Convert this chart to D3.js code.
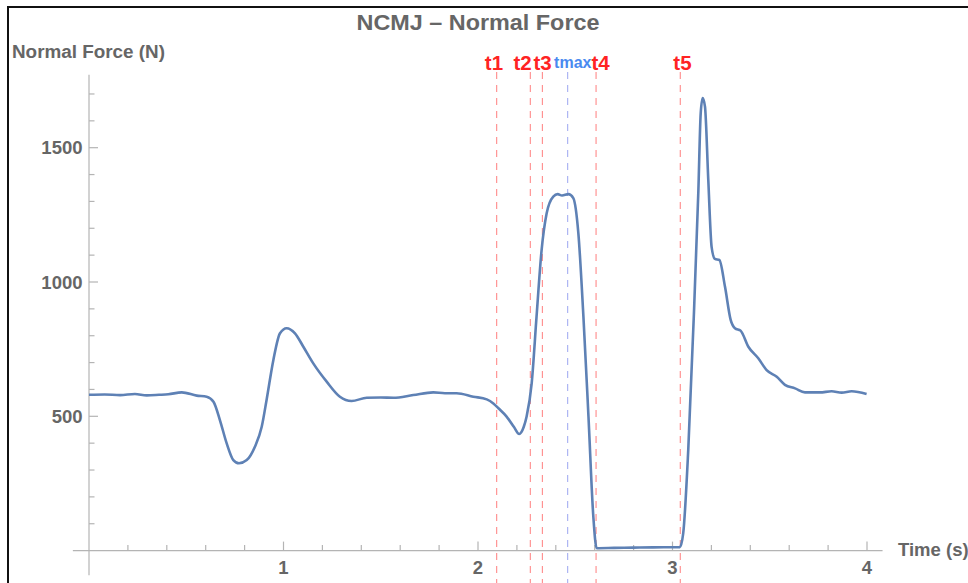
<!DOCTYPE html>
<html>
<head>
<meta charset="utf-8">
<script src="https://cdn.jsdelivr.net/npm/d3@7"></script>
<style>
  html, body { margin: 0; padding: 0; background: #fff; }
  svg { display: block; }
  text { font-family: "Liberation Sans", Arial, sans-serif; font-weight: bold; }
</style>
</head>
<body>
<div id="chart"></div>
<script>
// NCMJ - NORMAL FORCE

const timeValues = [
    0, 0.08, 0.16, 0.236, 0.297, 0.36, 0.408, 0.477, 0.554, 0.605,
    0.640, 0.673, 0.708, 0.742, 0.771, 0.811, 0.853, 0.888, 0.913, 0.948,
    0.982, 1.016, 1.059, 1.102, 1.153, 1.222, 1.290, 1.350, 1.428, 1.50,
    1.565, 1.667, 1.770, 1.830, 1.890, 1.976, 2.045, 2.079, 2.105, 2.147,
    2.185, 2.212, 2.235, 2.250, 2.276, 2.301, 2.327, 2.353, 2.387, 2.410,
    2.432, 2.465, 2.490, 2.516, 2.542, 2.568, 2.593, 2.610, 2.70, 2.798,
    2.90, 3.038, 3.055, 3.081, 3.110, 3.133, 3.145, 3.155, 3.167, 3.184,
    3.201, 3.218, 3.241, 3.270, 3.299, 3.321, 3.350, 3.390, 3.441, 3.484,
    3.536, 3.578, 3.630, 3.681, 3.758, 3.818, 3.870, 3.921, 3.998
];
const forceValues = [
    580, 581, 579, 583, 578, 580, 582, 589, 577, 573,
    554, 486, 399, 337, 325, 337, 387, 461, 561, 710,
    809, 828, 809, 759, 697, 629, 573, 557, 569, 570,
    569, 579, 589, 586, 586, 573, 563, 548, 530, 499,
    460, 434, 460, 499, 623, 871, 1119, 1256, 1318, 1327,
    1322, 1327, 1312, 1181, 871, 499, 126, 9, 10, 11,
    12, 13, 64, 375, 880, 1340, 1628, 1685, 1653, 1380,
    1131, 1086, 1082, 982, 859, 828, 819, 759, 716, 672,
    647, 617, 604, 589, 589, 593, 588, 593, 583
];

// event markers
const markerNames = ["t1", "t2", "t3", "tmax", "t4", "t5"];
const markerTimes = [2.096, 2.269, 2.331, 2.461, 2.607, 3.040];

// tick values
const xMajorTicks = [1, 2, 3, 4];
const xMinorTicks = d3.range(0.2, 4.01, 0.2);
const yMajorTicks = [500, 1000, 1500];
const yMinorTicks = d3.range(100, 1701, 100);

const W = 968, H = 583;

const svg = d3.select("#chart").append("svg")
    .attr("width", W)
    .attr("height", H);

const x = d3.scaleLinear().domain([0, 4]).range([89, 867]);
const y = d3.scaleLinear().domain([0, 1500]).range([550.6, 147.7]);

const axisColor = "#b4b4b4";
const labelColor = "#666666";

// frame from screenshot
svg.append("path")
    .attr("d", `M8,${H} L8,7 L${W},7`)
    .attr("fill", "none")
    .attr("stroke", "#111")
    .attr("stroke-width", 2);

// title
svg.append("text")
    .attr("x", 478)
    .attr("y", 30)
    .attr("text-anchor", "middle")
    .attr("fill", labelColor)
    .attr("font-size", "22px")
    .attr("textLength", 243)
    .attr("lengthAdjust", "spacingAndGlyphs")
    .text("NCMJ \u2013 Normal Force");

svg.append("text")
    .attr("x", 12)
    .attr("y", 58)
    .attr("fill", labelColor)
    .attr("font-size", "18px")
    .attr("textLength", 153)
    .attr("lengthAdjust", "spacingAndGlyphs")
    .text("Normal Force (N)");

// axes
const axes = svg.append("g").attr("stroke", axisColor).attr("stroke-width", 1.2);

axes.append("line")
    .attr("x1", x(-0.083)).attr("x2", x(4.08))
    .attr("y1", y(0)).attr("y2", y(0));

axes.append("line")
    .attr("x1", x(0)).attr("x2", x(0))
    .attr("y1", y(-92)).attr("y2", y(1772));

axes.selectAll(".xminor")
    .data(xMinorTicks.filter(d => Math.abs(d - Math.round(d)) > 0.01))
    .join("line")
    .attr("x1", d => x(d)).attr("x2", d => x(d))
    .attr("y1", y(0)).attr("y2", y(0) - 5.5);

axes.selectAll(".xmajor")
    .data(xMajorTicks)
    .join("line")
    .attr("x1", d => x(d)).attr("x2", d => x(d))
    .attr("y1", y(0)).attr("y2", y(0) - 9);

axes.selectAll(".yminor")
    .data(yMinorTicks.filter(d => d % 500 !== 0))
    .join("line")
    .attr("x1", x(0)).attr("x2", x(0) + 5.5)
    .attr("y1", d => y(d)).attr("y2", d => y(d));

axes.selectAll(".ymajor")
    .data(yMajorTicks)
    .join("line")
    .attr("x1", x(0)).attr("x2", x(0) + 9)
    .attr("y1", d => y(d)).attr("y2", d => y(d));

svg.selectAll(".xlabel")
    .data(xMajorTicks)
    .join("text")
    .attr("x", d => x(d))
    .attr("y", 574)
    .attr("text-anchor", "middle")
    .attr("fill", labelColor)
    .attr("font-size", "18.5px")
    .text(d => d);

svg.selectAll(".ylabel")
    .data(yMajorTicks)
    .join("text")
    .attr("x", 82.5)
    .attr("y", d => y(d))
    .attr("dy", "0.36em")
    .attr("text-anchor", "end")
    .attr("fill", labelColor)
    .attr("font-size", "18.5px")
    .text(d => d);

svg.append("text")
    .attr("x", 898)
    .attr("y", 556)
    .attr("fill", labelColor)
    .attr("font-size", "18.5px")
    .text("Time (s)");

// marker lines
const labelShift = [-2.7, -7.8, 0.2, 5.1, 4.5, 2.2];
const markers = markerNames.map((name, i) => ({ name, t: markerTimes[i], shift: labelShift[i] }));

svg.selectAll(".marker")
    .data(markers)
    .join("line")
    .attr("x1", d => x(d.t)).attr("x2", d => x(d.t))
    .attr("y1", 72).attr("y2", H)
    .attr("stroke", d => d.name === "tmax" ? "#a4aef2" : "#ff8a8a")
    .attr("stroke-width", 1.1)
    .attr("stroke-dasharray", "7,6");

svg.selectAll(".marker-label")
    .data(markers)
    .join("text")
    .attr("x", d => x(d.t) + d.shift)
    .attr("y", d => d.name === "tmax" ? 67.5 : 70)
    .attr("text-anchor", "middle")
    .attr("fill", d => d.name === "tmax" ? "#4a8af0" : "#ff2323")
    .attr("font-size", d => d.name === "tmax" ? "16px" : "20.5px")
    .text(d => d.name);

// force curve
const points = timeValues.map((t, i) => [t, forceValues[i]]);

const line = d3.line()
    .x(d => x(d[0]))
    .y(d => y(d[1]))
    .curve(d3.curveMonotoneX);

svg.append("path")
    .datum(points)
    .attr("d", line)
    .attr("fill", "none")
    .attr("stroke", "#5e81b5")
    .attr("stroke-width", 2.6)
    .attr("stroke-linejoin", "round");
</script>
</body>
</html>
